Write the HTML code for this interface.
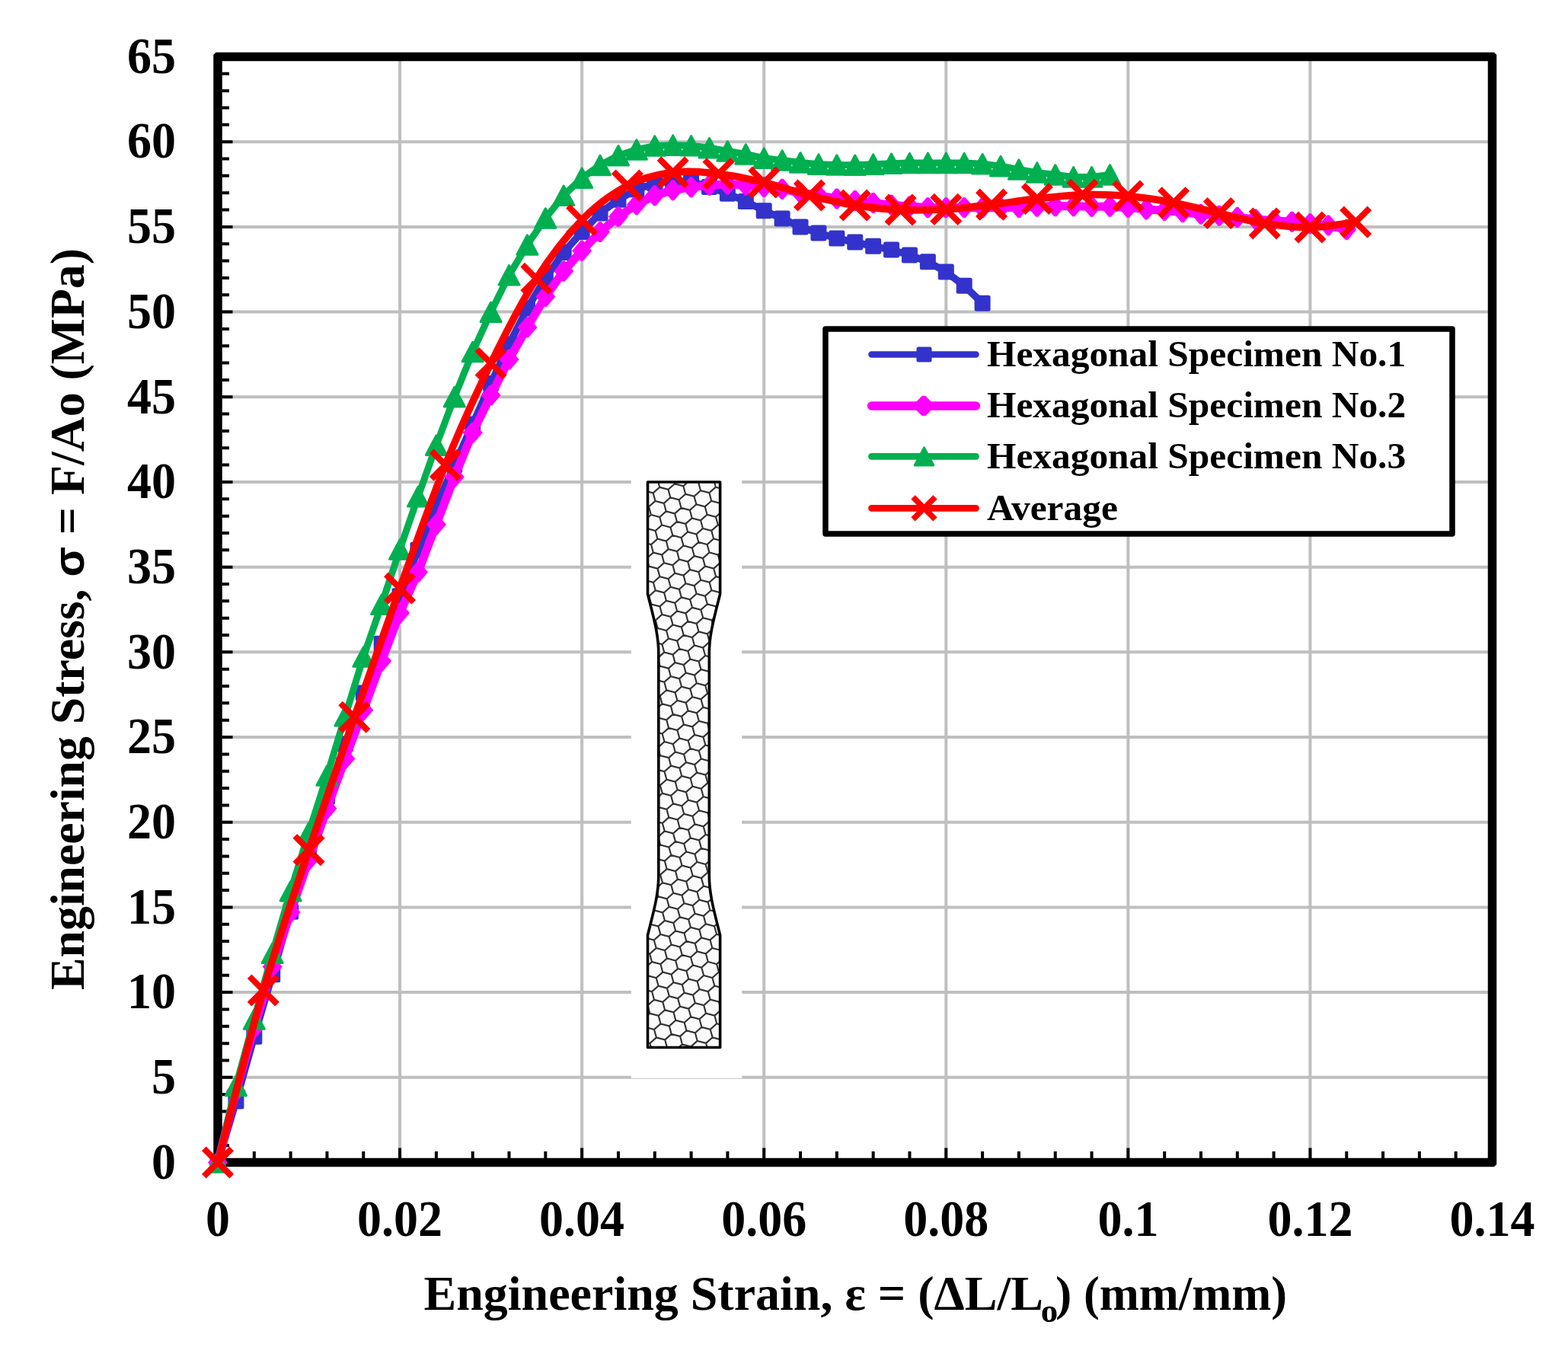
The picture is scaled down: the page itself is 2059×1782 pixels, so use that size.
<!DOCTYPE html>
<html><head><meta charset="utf-8"><title>Engineering stress-strain curves</title>
<style>html,body{margin:0;padding:0;background:#fff;}svg{display:block;}</style></head>
<body><svg width="2059" height="1782" viewBox="0 0 2059 1782">
<rect width="2059" height="1782" fill="#fff"/>
<path d="M525.07 74.50V1526.50 M764.14 74.50V1526.50 M1003.21 74.50V1526.50 M1242.29 74.50V1526.50 M1481.36 74.50V1526.50 M1720.43 74.50V1526.50 M286.00 1414.81H1959.50 M286.00 1303.12H1959.50 M286.00 1191.42H1959.50 M286.00 1079.73H1959.50 M286.00 968.04H1959.50 M286.00 856.35H1959.50 M286.00 744.65H1959.50 M286.00 632.96H1959.50 M286.00 521.27H1959.50 M286.00 409.58H1959.50 M286.00 297.88H1959.50 M286.00 186.19H1959.50" stroke="#bfbfbf" stroke-width="4" fill="none"/>
<rect x="828.8" y="624" width="145.4" height="791.8" fill="#fff"/>
<clipPath id="spc"><path d="M850.5 633.0H945.6V780.0C938.1 810.0 931.3 833.0 931.3 858.0V1150.0C931.3 1175.0 938.1 1198.0 945.6 1228.0V1375.5H850.5V1228.0C858.0 1198.0 864.8 1175.0 864.8 1150.0V858.0C864.8 833.0 858.0 810.0 850.5 780.0Z"/></clipPath>
<g clip-path="url(#spc)"><rect x="840" y="620" width="120" height="770" fill="#fbfbfb"/><path d="M837.8 612.8L829.3 620.3L817.9 617.3L815.1 606.8L823.6 599.2L834.9 602.2ZM852.0 626.3L843.5 633.8L832.1 630.8L829.3 620.3L837.8 612.8L849.1 615.8ZM846.3 644.4L837.8 651.9L826.5 648.9L823.6 638.4L832.1 630.8L843.5 633.8ZM840.7 662.4L832.2 670.0L820.9 667.0L818.0 656.5L826.5 648.9L837.8 651.9ZM871.8 621.7L863.3 629.3L852.0 626.3L849.1 615.8L857.6 608.2L868.9 611.2ZM866.2 639.8L857.7 647.4L846.3 644.4L843.5 633.8L852.0 626.3L863.3 629.3ZM860.5 657.9L852.0 665.4L840.7 662.4L837.8 651.9L846.3 644.4L857.7 647.4ZM854.9 676.0L846.4 683.5L835.1 680.5L832.2 670.0L840.7 662.4L852.0 665.4ZM849.2 694.0L840.8 701.6L829.4 698.6L826.6 688.1L835.1 680.5L846.4 683.5ZM843.6 712.1L835.1 719.7L823.8 716.7L820.9 706.1L829.4 698.6L840.8 701.6ZM838.0 730.2L829.5 737.7L818.2 734.7L815.3 724.2L823.8 716.7L835.1 719.7ZM891.6 617.2L883.1 624.7L871.8 621.7L868.9 611.2L877.4 603.7L888.8 606.7ZM886.0 635.3L877.5 642.8L866.2 639.8L863.3 629.3L871.8 621.7L883.1 624.7ZM880.3 653.3L871.9 660.9L860.5 657.9L857.7 647.4L866.2 639.8L877.5 642.8ZM874.7 671.4L866.2 679.0L854.9 676.0L852.0 665.4L860.5 657.9L871.9 660.9ZM869.1 689.5L860.6 697.0L849.2 694.0L846.4 683.5L854.9 676.0L866.2 679.0ZM863.4 707.6L855.0 715.1L843.6 712.1L840.8 701.6L849.2 694.0L860.6 697.0ZM857.8 725.6L849.3 733.2L838.0 730.2L835.1 719.7L843.6 712.1L855.0 715.1ZM852.2 743.7L843.7 751.3L832.3 748.3L829.5 737.7L838.0 730.2L849.3 733.2ZM846.5 761.8L838.1 769.3L826.7 766.3L823.9 755.8L832.3 748.3L843.7 751.3ZM840.9 779.9L832.4 787.4L821.1 784.4L818.2 773.9L826.7 766.3L838.1 769.3ZM911.4 612.6L903.0 620.2L891.6 617.2L888.8 606.7L897.2 599.1L908.6 602.1ZM905.8 630.7L897.3 638.3L886.0 635.3L883.1 624.7L891.6 617.2L903.0 620.2ZM900.2 648.8L891.7 656.3L880.3 653.3L877.5 642.8L886.0 635.3L897.3 638.3ZM894.5 666.9L886.1 674.4L874.7 671.4L871.9 660.9L880.3 653.3L891.7 656.3ZM888.9 684.9L880.4 692.5L869.1 689.5L866.2 679.0L874.7 671.4L886.1 674.4ZM883.3 703.0L874.8 710.6L863.4 707.6L860.6 697.0L869.1 689.5L880.4 692.5ZM877.6 721.1L869.2 728.6L857.8 725.6L855.0 715.1L863.4 707.6L874.8 710.6ZM872.0 739.2L863.5 746.7L852.2 743.7L849.3 733.2L857.8 725.6L869.2 728.6ZM866.4 757.2L857.9 764.8L846.5 761.8L843.7 751.3L852.2 743.7L863.5 746.7ZM860.7 775.3L852.3 782.9L840.9 779.9L838.1 769.3L846.5 761.8L857.9 764.8ZM855.1 793.4L846.6 800.9L835.3 797.9L832.4 787.4L840.9 779.9L852.3 782.9ZM849.5 811.5L841.0 819.0L829.6 816.0L826.8 805.5L835.3 797.9L846.6 800.9ZM843.8 829.5L835.4 837.1L824.0 834.1L821.2 823.6L829.6 816.0L841.0 819.0ZM838.2 847.6L829.7 855.2L818.4 852.2L815.5 841.6L824.0 834.1L835.4 837.1ZM925.6 626.2L917.2 633.7L905.8 630.7L903.0 620.2L911.4 612.6L922.8 615.6ZM920.0 644.2L911.5 651.8L900.2 648.8L897.3 638.3L905.8 630.7L917.2 633.7ZM914.4 662.3L905.9 669.9L894.5 666.9L891.7 656.3L900.2 648.8L911.5 651.8ZM908.7 680.4L900.3 687.9L888.9 684.9L886.1 674.4L894.5 666.9L905.9 669.9ZM903.1 698.5L894.6 706.0L883.3 703.0L880.4 692.5L888.9 684.9L900.3 687.9ZM897.5 716.5L889.0 724.1L877.6 721.1L874.8 710.6L883.3 703.0L894.6 706.0ZM891.8 734.6L883.4 742.2L872.0 739.2L869.2 728.6L877.6 721.1L889.0 724.1ZM886.2 752.7L877.7 760.2L866.4 757.2L863.5 746.7L872.0 739.2L883.4 742.2ZM880.6 770.8L872.1 778.3L860.7 775.3L857.9 764.8L866.4 757.2L877.7 760.2ZM874.9 788.8L866.5 796.4L855.1 793.4L852.3 782.9L860.7 775.3L872.1 778.3ZM869.3 806.9L860.8 814.5L849.5 811.5L846.6 800.9L855.1 793.4L866.5 796.4ZM863.7 825.0L855.2 832.5L843.8 829.5L841.0 819.0L849.5 811.5L860.8 814.5ZM858.0 843.1L849.6 850.6L838.2 847.6L835.4 837.1L843.8 829.5L855.2 832.5ZM852.4 861.1L843.9 868.7L832.6 865.7L829.7 855.2L838.2 847.6L849.6 850.6ZM846.8 879.2L838.3 886.8L826.9 883.8L824.1 873.2L832.6 865.7L843.9 868.7ZM841.1 897.3L832.7 904.8L821.3 901.8L818.5 891.3L826.9 883.8L838.3 886.8ZM945.5 621.6L937.0 629.2L925.6 626.2L922.8 615.6L931.3 608.1L942.6 611.1ZM939.8 639.7L931.4 647.2L920.0 644.2L917.2 633.7L925.6 626.2L937.0 629.2ZM934.2 657.8L925.7 665.3L914.4 662.3L911.5 651.8L920.0 644.2L931.4 647.2ZM928.6 675.8L920.1 683.4L908.7 680.4L905.9 669.9L914.4 662.3L925.7 665.3ZM922.9 693.9L914.5 701.5L903.1 698.5L900.3 687.9L908.7 680.4L920.1 683.4ZM917.3 712.0L908.8 719.5L897.5 716.5L894.6 706.0L903.1 698.5L914.5 701.5ZM911.7 730.1L903.2 737.6L891.8 734.6L889.0 724.1L897.5 716.5L908.8 719.5ZM906.0 748.1L897.6 755.7L886.2 752.7L883.4 742.2L891.8 734.6L903.2 737.6ZM900.4 766.2L891.9 773.8L880.6 770.8L877.7 760.2L886.2 752.7L897.6 755.7ZM894.8 784.3L886.3 791.8L874.9 788.8L872.1 778.3L880.6 770.8L891.9 773.8ZM889.1 802.4L880.7 809.9L869.3 806.9L866.5 796.4L874.9 788.8L886.3 791.8ZM883.5 820.4L875.0 828.0L863.7 825.0L860.8 814.5L869.3 806.9L880.7 809.9ZM877.9 838.5L869.4 846.1L858.0 843.1L855.2 832.5L863.7 825.0L875.0 828.0ZM872.2 856.6L863.8 864.1L852.4 861.1L849.6 850.6L858.0 843.1L869.4 846.1ZM866.6 874.7L858.1 882.2L846.8 879.2L843.9 868.7L852.4 861.1L863.8 864.1ZM861.0 892.7L852.5 900.3L841.1 897.3L838.3 886.8L846.8 879.2L858.1 882.2ZM855.3 910.8L846.8 918.4L835.5 915.4L832.7 904.8L841.1 897.3L852.5 900.3ZM849.7 928.9L841.2 936.4L829.9 933.4L827.0 922.9L835.5 915.4L846.8 918.4ZM844.1 947.0L835.6 954.5L824.2 951.5L821.4 941.0L829.9 933.4L841.2 936.4ZM838.4 965.0L829.9 972.6L818.6 969.6L815.8 959.1L824.2 951.5L835.6 954.5ZM965.3 617.1L956.8 624.6L945.5 621.6L942.6 611.1L951.1 603.5L962.5 606.5ZM959.7 635.1L951.2 642.7L939.8 639.7L937.0 629.2L945.5 621.6L956.8 624.6ZM954.0 653.2L945.6 660.8L934.2 657.8L931.4 647.2L939.8 639.7L951.2 642.7ZM948.4 671.3L939.9 678.8L928.6 675.8L925.7 665.3L934.2 657.8L945.6 660.8ZM942.8 689.4L934.3 696.9L922.9 693.9L920.1 683.4L928.6 675.8L939.9 678.8ZM937.1 707.4L928.6 715.0L917.3 712.0L914.5 701.5L922.9 693.9L934.3 696.9ZM931.5 725.5L923.0 733.1L911.7 730.1L908.8 719.5L917.3 712.0L928.6 715.0ZM925.9 743.6L917.4 751.1L906.0 748.1L903.2 737.6L911.7 730.1L923.0 733.1ZM920.2 761.7L911.7 769.2L900.4 766.2L897.6 755.7L906.0 748.1L917.4 751.1ZM914.6 779.7L906.1 787.3L894.8 784.3L891.9 773.8L900.4 766.2L911.7 769.2ZM909.0 797.8L900.5 805.4L889.1 802.4L886.3 791.8L894.8 784.3L906.1 787.3ZM903.3 815.9L894.8 823.4L883.5 820.4L880.7 809.9L889.1 802.4L900.5 805.4ZM897.7 834.0L889.2 841.5L877.9 838.5L875.0 828.0L883.5 820.4L894.8 823.4ZM892.1 852.0L883.6 859.6L872.2 856.6L869.4 846.1L877.9 838.5L889.2 841.5ZM886.4 870.1L877.9 877.7L866.6 874.7L863.8 864.1L872.2 856.6L883.6 859.6ZM880.8 888.2L872.3 895.7L861.0 892.7L858.1 882.2L866.6 874.7L877.9 877.7ZM875.2 906.3L866.7 913.8L855.3 910.8L852.5 900.3L861.0 892.7L872.3 895.7ZM869.5 924.3L861.0 931.9L849.7 928.9L846.8 918.4L855.3 910.8L866.7 913.8ZM863.9 942.4L855.4 950.0L844.1 947.0L841.2 936.4L849.7 928.9L861.0 931.9ZM858.3 960.5L849.8 968.0L838.4 965.0L835.6 954.5L844.1 947.0L855.4 950.0ZM852.6 978.6L844.1 986.1L832.8 983.1L829.9 972.6L838.4 965.0L849.8 968.0ZM847.0 996.6L838.5 1004.2L827.2 1001.2L824.3 990.7L832.8 983.1L844.1 986.1ZM841.4 1014.7L832.9 1022.3L821.5 1019.3L818.7 1008.7L827.2 1001.2L838.5 1004.2ZM979.5 630.6L971.0 638.1L959.7 635.1L956.8 624.6L965.3 617.1L976.6 620.1ZM973.9 648.7L965.4 656.2L954.0 653.2L951.2 642.7L959.7 635.1L971.0 638.1ZM968.2 666.7L959.7 674.3L948.4 671.3L945.6 660.8L954.0 653.2L965.4 656.2ZM962.6 684.8L954.1 692.4L942.8 689.4L939.9 678.8L948.4 671.3L959.7 674.3ZM957.0 702.9L948.5 710.4L937.1 707.4L934.3 696.9L942.8 689.4L954.1 692.4ZM951.3 721.0L942.8 728.5L931.5 725.5L928.6 715.0L937.1 707.4L948.5 710.4ZM945.7 739.0L937.2 746.6L925.9 743.6L923.0 733.1L931.5 725.5L942.8 728.5ZM940.1 757.1L931.6 764.7L920.2 761.7L917.4 751.1L925.9 743.6L937.2 746.6ZM934.4 775.2L925.9 782.7L914.6 779.7L911.7 769.2L920.2 761.7L931.6 764.7ZM928.8 793.3L920.3 800.8L909.0 797.8L906.1 787.3L914.6 779.7L925.9 782.7ZM923.2 811.3L914.7 818.9L903.3 815.9L900.5 805.4L909.0 797.8L920.3 800.8ZM917.5 829.4L909.0 837.0L897.7 834.0L894.8 823.4L903.3 815.9L914.7 818.9ZM911.9 847.5L903.4 855.0L892.1 852.0L889.2 841.5L897.7 834.0L909.0 837.0ZM906.3 865.6L897.8 873.1L886.4 870.1L883.6 859.6L892.1 852.0L903.4 855.0ZM900.6 883.6L892.1 891.2L880.8 888.2L877.9 877.7L886.4 870.1L897.8 873.1ZM895.0 901.7L886.5 909.3L875.2 906.3L872.3 895.7L880.8 888.2L892.1 891.2ZM889.4 919.8L880.9 927.3L869.5 924.3L866.7 913.8L875.2 906.3L886.5 909.3ZM883.7 937.9L875.2 945.4L863.9 942.4L861.0 931.9L869.5 924.3L880.9 927.3ZM878.1 955.9L869.6 963.5L858.3 960.5L855.4 950.0L863.9 942.4L875.2 945.4ZM872.5 974.0L864.0 981.6L852.6 978.6L849.8 968.0L858.3 960.5L869.6 963.5ZM866.8 992.1L858.3 999.6L847.0 996.6L844.1 986.1L852.6 978.6L864.0 981.6ZM861.2 1010.2L852.7 1017.7L841.4 1014.7L838.5 1004.2L847.0 996.6L858.3 999.6ZM855.6 1028.2L847.1 1035.8L835.7 1032.8L832.9 1022.3L841.4 1014.7L852.7 1017.7ZM849.9 1046.3L841.4 1053.9L830.1 1050.9L827.2 1040.3L835.7 1032.8L847.1 1035.8ZM844.3 1064.4L835.8 1071.9L824.5 1068.9L821.6 1058.4L830.1 1050.9L841.4 1053.9ZM838.7 1082.5L830.2 1090.0L818.8 1087.0L816.0 1076.5L824.5 1068.9L835.8 1071.9ZM976.8 698.3L968.3 705.9L957.0 702.9L954.1 692.4L962.6 684.8L973.9 687.8ZM971.2 716.4L962.7 724.0L951.3 721.0L948.5 710.4L957.0 702.9L968.3 705.9ZM965.5 734.5L957.0 742.0L945.7 739.0L942.8 728.5L951.3 721.0L962.7 724.0ZM959.9 752.6L951.4 760.1L940.1 757.1L937.2 746.6L945.7 739.0L957.0 742.0ZM954.3 770.6L945.8 778.2L934.4 775.2L931.6 764.7L940.1 757.1L951.4 760.1ZM948.6 788.7L940.1 796.3L928.8 793.3L925.9 782.7L934.4 775.2L945.8 778.2ZM943.0 806.8L934.5 814.3L923.2 811.3L920.3 800.8L928.8 793.3L940.1 796.3ZM937.4 824.9L928.9 832.4L917.5 829.4L914.7 818.9L923.2 811.3L934.5 814.3ZM931.7 842.9L923.2 850.5L911.9 847.5L909.0 837.0L917.5 829.4L928.9 832.4ZM926.1 861.0L917.6 868.6L906.3 865.6L903.4 855.0L911.9 847.5L923.2 850.5ZM920.5 879.1L912.0 886.6L900.6 883.6L897.8 873.1L906.3 865.6L917.6 868.6ZM914.8 897.2L906.3 904.7L895.0 901.7L892.1 891.2L900.6 883.6L912.0 886.6ZM909.2 915.2L900.7 922.8L889.4 919.8L886.5 909.3L895.0 901.7L906.3 904.7ZM903.6 933.3L895.1 940.9L883.7 937.9L880.9 927.3L889.4 919.8L900.7 922.8ZM897.9 951.4L889.4 958.9L878.1 955.9L875.2 945.4L883.7 937.9L895.1 940.9ZM892.3 969.5L883.8 977.0L872.5 974.0L869.6 963.5L878.1 955.9L889.4 958.9ZM886.7 987.5L878.2 995.1L866.8 992.1L864.0 981.6L872.5 974.0L883.8 977.0ZM881.0 1005.6L872.5 1013.2L861.2 1010.2L858.3 999.6L866.8 992.1L878.2 995.1ZM875.4 1023.7L866.9 1031.2L855.6 1028.2L852.7 1017.7L861.2 1010.2L872.5 1013.2ZM869.8 1041.8L861.3 1049.3L849.9 1046.3L847.1 1035.8L855.6 1028.2L866.9 1031.2ZM864.1 1059.8L855.6 1067.4L844.3 1064.4L841.4 1053.9L849.9 1046.3L861.3 1049.3ZM858.5 1077.9L850.0 1085.5L838.7 1082.5L835.8 1071.9L844.3 1064.4L855.6 1067.4ZM852.9 1096.0L844.4 1103.5L833.0 1100.5L830.2 1090.0L838.7 1082.5L850.0 1085.5ZM847.2 1114.1L838.7 1121.6L827.4 1118.6L824.5 1108.1L833.0 1100.5L844.4 1103.5ZM841.6 1132.1L833.1 1139.7L821.8 1136.7L818.9 1126.2L827.4 1118.6L838.7 1121.6ZM979.7 748.0L971.2 755.6L959.9 752.6L957.0 742.0L965.5 734.5L976.9 737.5ZM974.1 766.1L965.6 773.6L954.3 770.6L951.4 760.1L959.9 752.6L971.2 755.6ZM968.5 784.2L960.0 791.7L948.6 788.7L945.8 778.2L954.3 770.6L965.6 773.6ZM962.8 802.2L954.3 809.8L943.0 806.8L940.1 796.3L948.6 788.7L960.0 791.7ZM957.2 820.3L948.7 827.9L937.4 824.9L934.5 814.3L943.0 806.8L954.3 809.8ZM951.6 838.4L943.1 845.9L931.7 842.9L928.9 832.4L937.4 824.9L948.7 827.9ZM945.9 856.5L937.4 864.0L926.1 861.0L923.2 850.5L931.7 842.9L943.1 845.9ZM940.3 874.5L931.8 882.1L920.5 879.1L917.6 868.6L926.1 861.0L937.4 864.0ZM934.7 892.6L926.2 900.2L914.8 897.2L912.0 886.6L920.5 879.1L931.8 882.1ZM929.0 910.7L920.5 918.2L909.2 915.2L906.3 904.7L914.8 897.2L926.2 900.2ZM923.4 928.8L914.9 936.3L903.6 933.3L900.7 922.8L909.2 915.2L920.5 918.2ZM917.8 946.8L909.3 954.4L897.9 951.4L895.1 940.9L903.6 933.3L914.9 936.3ZM912.1 964.9L903.6 972.5L892.3 969.5L889.4 958.9L897.9 951.4L909.3 954.4ZM906.5 983.0L898.0 990.5L886.7 987.5L883.8 977.0L892.3 969.5L903.6 972.5ZM900.9 1001.1L892.4 1008.6L881.0 1005.6L878.2 995.1L886.7 987.5L898.0 990.5ZM895.2 1019.1L886.7 1026.7L875.4 1023.7L872.5 1013.2L881.0 1005.6L892.4 1008.6ZM889.6 1037.2L881.1 1044.8L869.8 1041.8L866.9 1031.2L875.4 1023.7L886.7 1026.7ZM884.0 1055.3L875.5 1062.8L864.1 1059.8L861.3 1049.3L869.8 1041.8L881.1 1044.8ZM878.3 1073.4L869.8 1080.9L858.5 1077.9L855.6 1067.4L864.1 1059.8L875.5 1062.8ZM872.7 1091.4L864.2 1099.0L852.9 1096.0L850.0 1085.5L858.5 1077.9L869.8 1080.9ZM867.1 1109.5L858.6 1117.1L847.2 1114.1L844.4 1103.5L852.9 1096.0L864.2 1099.0ZM861.4 1127.6L852.9 1135.1L841.6 1132.1L838.7 1121.6L847.2 1114.1L858.6 1117.1ZM855.8 1145.7L847.3 1153.2L836.0 1150.2L833.1 1139.7L841.6 1132.1L852.9 1135.1ZM850.2 1163.7L841.7 1171.3L830.3 1168.3L827.5 1157.8L836.0 1150.2L847.3 1153.2ZM844.5 1181.8L836.0 1189.4L824.7 1186.4L821.8 1175.8L830.3 1168.3L841.7 1171.3ZM838.9 1199.9L830.4 1207.4L819.1 1204.4L816.2 1193.9L824.7 1186.4L836.0 1189.4ZM977.0 815.8L968.5 823.3L957.2 820.3L954.3 809.8L962.8 802.2L974.2 805.2ZM971.4 833.8L962.9 841.4L951.6 838.4L948.7 827.9L957.2 820.3L968.5 823.3ZM965.8 851.9L957.3 859.5L945.9 856.5L943.1 845.9L951.6 838.4L962.9 841.4ZM960.1 870.0L951.6 877.5L940.3 874.5L937.4 864.0L945.9 856.5L957.3 859.5ZM954.5 888.1L946.0 895.6L934.7 892.6L931.8 882.1L940.3 874.5L951.6 877.5ZM948.9 906.1L940.4 913.7L929.0 910.7L926.2 900.2L934.7 892.6L946.0 895.6ZM943.2 924.2L934.7 931.8L923.4 928.8L920.5 918.2L929.0 910.7L940.4 913.7ZM937.6 942.3L929.1 949.8L917.8 946.8L914.9 936.3L923.4 928.8L934.7 931.8ZM932.0 960.4L923.5 967.9L912.1 964.9L909.3 954.4L917.8 946.8L929.1 949.8ZM926.3 978.4L917.8 986.0L906.5 983.0L903.6 972.5L912.1 964.9L923.5 967.9ZM920.7 996.5L912.2 1004.1L900.9 1001.1L898.0 990.5L906.5 983.0L917.8 986.0ZM915.1 1014.6L906.6 1022.1L895.2 1019.1L892.4 1008.6L900.9 1001.1L912.2 1004.1ZM909.4 1032.7L900.9 1040.2L889.6 1037.2L886.7 1026.7L895.2 1019.1L906.6 1022.1ZM903.8 1050.7L895.3 1058.3L884.0 1055.3L881.1 1044.8L889.6 1037.2L900.9 1040.2ZM898.2 1068.8L889.7 1076.4L878.3 1073.4L875.5 1062.8L884.0 1055.3L895.3 1058.3ZM892.5 1086.9L884.0 1094.4L872.7 1091.4L869.8 1080.9L878.3 1073.4L889.7 1076.4ZM886.9 1105.0L878.4 1112.5L867.1 1109.5L864.2 1099.0L872.7 1091.4L884.0 1094.4ZM881.3 1123.0L872.8 1130.6L861.4 1127.6L858.6 1117.1L867.1 1109.5L878.4 1112.5ZM875.6 1141.1L867.1 1148.7L855.8 1145.7L852.9 1135.1L861.4 1127.6L872.8 1130.6ZM870.0 1159.2L861.5 1166.7L850.2 1163.7L847.3 1153.2L855.8 1145.7L867.1 1148.7ZM864.4 1177.3L855.9 1184.8L844.5 1181.8L841.7 1171.3L850.2 1163.7L861.5 1166.7ZM858.7 1195.3L850.2 1202.9L838.9 1199.9L836.0 1189.4L844.5 1181.8L855.9 1184.8ZM853.1 1213.4L844.6 1221.0L833.3 1218.0L830.4 1207.4L838.9 1199.9L850.2 1202.9ZM847.5 1231.5L839.0 1239.0L827.6 1236.0L824.8 1225.5L833.3 1218.0L844.6 1221.0ZM841.8 1249.6L833.3 1257.1L822.0 1254.1L819.1 1243.6L827.6 1236.0L839.0 1239.0ZM980.0 865.4L971.5 873.0L960.1 870.0L957.3 859.5L965.8 851.9L977.1 854.9ZM974.3 883.5L965.8 891.1L954.5 888.1L951.6 877.5L960.1 870.0L971.5 873.0ZM968.7 901.6L960.2 909.1L948.9 906.1L946.0 895.6L954.5 888.1L965.8 891.1ZM963.1 919.7L954.6 927.2L943.2 924.2L940.4 913.7L948.9 906.1L960.2 909.1ZM957.4 937.7L948.9 945.3L937.6 942.3L934.7 931.8L943.2 924.2L954.6 927.2ZM951.8 955.8L943.3 963.4L932.0 960.4L929.1 949.8L937.6 942.3L948.9 945.3ZM946.2 973.9L937.7 981.4L926.3 978.4L923.5 967.9L932.0 960.4L943.3 963.4ZM940.5 992.0L932.0 999.5L920.7 996.5L917.8 986.0L926.3 978.4L937.7 981.4ZM934.9 1010.0L926.4 1017.6L915.1 1014.6L912.2 1004.1L920.7 996.5L932.0 999.5ZM929.3 1028.1L920.8 1035.7L909.4 1032.7L906.6 1022.1L915.1 1014.6L926.4 1017.6ZM923.6 1046.2L915.1 1053.7L903.8 1050.7L900.9 1040.2L909.4 1032.7L920.8 1035.7ZM918.0 1064.3L909.5 1071.8L898.2 1068.8L895.3 1058.3L903.8 1050.7L915.1 1053.7ZM912.4 1082.3L903.9 1089.9L892.5 1086.9L889.7 1076.4L898.2 1068.8L909.5 1071.8ZM906.7 1100.4L898.2 1108.0L886.9 1105.0L884.0 1094.4L892.5 1086.9L903.9 1089.9ZM901.1 1118.5L892.6 1126.0L881.3 1123.0L878.4 1112.5L886.9 1105.0L898.2 1108.0ZM895.5 1136.6L887.0 1144.1L875.6 1141.1L872.8 1130.6L881.3 1123.0L892.6 1126.0ZM889.8 1154.6L881.3 1162.2L870.0 1159.2L867.1 1148.7L875.6 1141.1L887.0 1144.1ZM884.2 1172.7L875.7 1180.3L864.4 1177.3L861.5 1166.7L870.0 1159.2L881.3 1162.2ZM878.6 1190.8L870.1 1198.3L858.7 1195.3L855.9 1184.8L864.4 1177.3L875.7 1180.3ZM872.9 1208.9L864.4 1216.4L853.1 1213.4L850.2 1202.9L858.7 1195.3L870.1 1198.3ZM867.3 1226.9L858.8 1234.5L847.5 1231.5L844.6 1221.0L853.1 1213.4L864.4 1216.4ZM861.7 1245.0L853.2 1252.6L841.8 1249.6L839.0 1239.0L847.5 1231.5L858.8 1234.5ZM856.0 1263.1L847.5 1270.6L836.2 1267.6L833.3 1257.1L841.8 1249.6L853.2 1252.6ZM850.4 1281.2L841.9 1288.7L830.6 1285.7L827.7 1275.2L836.2 1267.6L847.5 1270.6ZM844.8 1299.2L836.3 1306.8L824.9 1303.8L822.1 1293.3L830.6 1285.7L841.9 1288.7ZM839.1 1317.3L830.6 1324.9L819.3 1321.9L816.4 1311.3L824.9 1303.8L836.3 1306.8ZM977.3 933.2L968.8 940.7L957.4 937.7L954.6 927.2L963.1 919.7L974.4 922.7ZM971.6 951.3L963.1 958.8L951.8 955.8L948.9 945.3L957.4 937.7L968.8 940.7ZM966.0 969.3L957.5 976.9L946.2 973.9L943.3 963.4L951.8 955.8L963.1 958.8ZM960.4 987.4L951.9 995.0L940.5 992.0L937.7 981.4L946.2 973.9L957.5 976.9ZM954.7 1005.5L946.2 1013.0L934.9 1010.0L932.0 999.5L940.5 992.0L951.9 995.0ZM949.1 1023.6L940.6 1031.1L929.3 1028.1L926.4 1017.6L934.9 1010.0L946.2 1013.0ZM943.5 1041.6L935.0 1049.2L923.6 1046.2L920.8 1035.7L929.3 1028.1L940.6 1031.1ZM937.8 1059.7L929.3 1067.3L918.0 1064.3L915.1 1053.7L923.6 1046.2L935.0 1049.2ZM932.2 1077.8L923.7 1085.3L912.4 1082.3L909.5 1071.8L918.0 1064.3L929.3 1067.3ZM926.6 1095.9L918.1 1103.4L906.7 1100.4L903.9 1089.9L912.4 1082.3L923.7 1085.3ZM920.9 1113.9L912.4 1121.5L901.1 1118.5L898.2 1108.0L906.7 1100.4L918.1 1103.4ZM915.3 1132.0L906.8 1139.6L895.5 1136.6L892.6 1126.0L901.1 1118.5L912.4 1121.5ZM909.7 1150.1L901.2 1157.6L889.8 1154.6L887.0 1144.1L895.5 1136.6L906.8 1139.6ZM904.0 1168.2L895.5 1175.7L884.2 1172.7L881.3 1162.2L889.8 1154.6L901.2 1157.6ZM898.4 1186.2L889.9 1193.8L878.6 1190.8L875.7 1180.3L884.2 1172.7L895.5 1175.7ZM892.8 1204.3L884.3 1211.9L872.9 1208.9L870.1 1198.3L878.6 1190.8L889.9 1193.8ZM887.1 1222.4L878.6 1229.9L867.3 1226.9L864.4 1216.4L872.9 1208.9L884.3 1211.9ZM881.5 1240.5L873.0 1248.0L861.7 1245.0L858.8 1234.5L867.3 1226.9L878.6 1229.9ZM875.9 1258.5L867.4 1266.1L856.0 1263.1L853.2 1252.6L861.7 1245.0L873.0 1248.0ZM870.2 1276.6L861.7 1284.2L850.4 1281.2L847.5 1270.6L856.0 1263.1L867.4 1266.1ZM864.6 1294.7L856.1 1302.2L844.8 1299.2L841.9 1288.7L850.4 1281.2L861.7 1284.2ZM859.0 1312.8L850.5 1320.3L839.1 1317.3L836.3 1306.8L844.8 1299.2L856.1 1302.2ZM853.3 1330.8L844.8 1338.4L833.5 1335.4L830.6 1324.9L839.1 1317.3L850.5 1320.3ZM847.7 1348.9L839.2 1356.5L827.9 1353.5L825.0 1342.9L833.5 1335.4L844.8 1338.4ZM842.1 1367.0L833.6 1374.5L822.2 1371.5L819.4 1361.0L827.9 1353.5L839.2 1356.5ZM980.2 982.9L971.7 990.4L960.4 987.4L957.5 976.9L966.0 969.3L977.3 972.3ZM974.6 1000.9L966.1 1008.5L954.7 1005.5L951.9 995.0L960.4 987.4L971.7 990.4ZM968.9 1019.0L960.4 1026.6L949.1 1023.6L946.2 1013.0L954.7 1005.5L966.1 1008.5ZM963.3 1037.1L954.8 1044.6L943.5 1041.6L940.6 1031.1L949.1 1023.6L960.4 1026.6ZM957.7 1055.2L949.2 1062.7L937.8 1059.7L935.0 1049.2L943.5 1041.6L954.8 1044.6ZM952.0 1073.2L943.5 1080.8L932.2 1077.8L929.3 1067.3L937.8 1059.7L949.2 1062.7ZM946.4 1091.3L937.9 1098.9L926.6 1095.9L923.7 1085.3L932.2 1077.8L943.5 1080.8ZM940.8 1109.4L932.3 1116.9L920.9 1113.9L918.1 1103.4L926.6 1095.9L937.9 1098.9ZM935.1 1127.5L926.6 1135.0L915.3 1132.0L912.4 1121.5L920.9 1113.9L932.3 1116.9ZM929.5 1145.5L921.0 1153.1L909.7 1150.1L906.8 1139.6L915.3 1132.0L926.6 1135.0ZM923.9 1163.6L915.4 1171.2L904.0 1168.2L901.2 1157.6L909.7 1150.1L921.0 1153.1ZM918.2 1181.7L909.7 1189.2L898.4 1186.2L895.5 1175.7L904.0 1168.2L915.4 1171.2ZM912.6 1199.8L904.1 1207.3L892.8 1204.3L889.9 1193.8L898.4 1186.2L909.7 1189.2ZM906.9 1217.8L898.5 1225.4L887.1 1222.4L884.3 1211.9L892.8 1204.3L904.1 1207.3ZM901.3 1235.9L892.8 1243.5L881.5 1240.5L878.6 1229.9L887.1 1222.4L898.5 1225.4ZM895.7 1254.0L887.2 1261.5L875.9 1258.5L873.0 1248.0L881.5 1240.5L892.8 1243.5ZM890.0 1272.1L881.6 1279.6L870.2 1276.6L867.4 1266.1L875.9 1258.5L887.2 1261.5ZM884.4 1290.1L875.9 1297.7L864.6 1294.7L861.7 1284.2L870.2 1276.6L881.6 1279.6ZM878.8 1308.2L870.3 1315.8L859.0 1312.8L856.1 1302.2L864.6 1294.7L875.9 1297.7ZM873.1 1326.3L864.7 1333.8L853.3 1330.8L850.5 1320.3L859.0 1312.8L870.3 1315.8ZM867.5 1344.4L859.0 1351.9L847.7 1348.9L844.8 1338.4L853.3 1330.8L864.7 1333.8ZM861.9 1362.4L853.4 1370.0L842.1 1367.0L839.2 1356.5L847.7 1348.9L859.0 1351.9ZM856.2 1380.5L847.8 1388.1L836.4 1385.1L833.6 1374.5L842.1 1367.0L853.4 1370.0ZM850.6 1398.6L842.1 1406.1L830.8 1403.1L827.9 1392.6L836.4 1385.1L847.8 1388.1ZM977.5 1050.6L969.0 1058.2L957.7 1055.2L954.8 1044.6L963.3 1037.1L974.6 1040.1ZM971.8 1068.7L963.4 1076.2L952.0 1073.2L949.2 1062.7L957.7 1055.2L969.0 1058.2ZM966.2 1086.8L957.7 1094.3L946.4 1091.3L943.5 1080.8L952.0 1073.2L963.4 1076.2ZM960.6 1104.8L952.1 1112.4L940.8 1109.4L937.9 1098.9L946.4 1091.3L957.7 1094.3ZM954.9 1122.9L946.5 1130.5L935.1 1127.5L932.3 1116.9L940.8 1109.4L952.1 1112.4ZM949.3 1141.0L940.8 1148.5L929.5 1145.5L926.6 1135.0L935.1 1127.5L946.5 1130.5ZM943.7 1159.1L935.2 1166.6L923.9 1163.6L921.0 1153.1L929.5 1145.5L940.8 1148.5ZM938.0 1177.1L929.6 1184.7L918.2 1181.7L915.4 1171.2L923.9 1163.6L935.2 1166.6ZM932.4 1195.2L923.9 1202.8L912.6 1199.8L909.7 1189.2L918.2 1181.7L929.6 1184.7ZM926.8 1213.3L918.3 1220.8L906.9 1217.8L904.1 1207.3L912.6 1199.8L923.9 1202.8ZM921.1 1231.4L912.7 1238.9L901.3 1235.9L898.5 1225.4L906.9 1217.8L918.3 1220.8ZM915.5 1249.4L907.0 1257.0L895.7 1254.0L892.8 1243.5L901.3 1235.9L912.7 1238.9ZM909.9 1267.5L901.4 1275.1L890.0 1272.1L887.2 1261.5L895.7 1254.0L907.0 1257.0ZM904.2 1285.6L895.8 1293.1L884.4 1290.1L881.6 1279.6L890.0 1272.1L901.4 1275.1ZM898.6 1303.7L890.1 1311.2L878.8 1308.2L875.9 1297.7L884.4 1290.1L895.8 1293.1ZM893.0 1321.7L884.5 1329.3L873.1 1326.3L870.3 1315.8L878.8 1308.2L890.1 1311.2ZM887.3 1339.8L878.9 1347.4L867.5 1344.4L864.7 1333.8L873.1 1326.3L884.5 1329.3ZM881.7 1357.9L873.2 1365.4L861.9 1362.4L859.0 1351.9L867.5 1344.4L878.9 1347.4ZM876.1 1376.0L867.6 1383.5L856.2 1380.5L853.4 1370.0L861.9 1362.4L873.2 1365.4ZM870.4 1394.0L862.0 1401.6L850.6 1398.6L847.8 1388.1L856.2 1380.5L867.6 1383.5ZM980.4 1100.3L971.9 1107.8L960.6 1104.8L957.7 1094.3L966.2 1086.8L977.6 1089.8ZM974.8 1118.4L966.3 1125.9L954.9 1122.9L952.1 1112.4L960.6 1104.8L971.9 1107.8ZM969.1 1136.4L960.7 1144.0L949.3 1141.0L946.5 1130.5L954.9 1122.9L966.3 1125.9ZM963.5 1154.5L955.0 1162.1L943.7 1159.1L940.8 1148.5L949.3 1141.0L960.7 1144.0ZM957.9 1172.6L949.4 1180.1L938.0 1177.1L935.2 1166.6L943.7 1159.1L955.0 1162.1ZM952.2 1190.7L943.8 1198.2L932.4 1195.2L929.6 1184.7L938.0 1177.1L949.4 1180.1ZM946.6 1208.7L938.1 1216.3L926.8 1213.3L923.9 1202.8L932.4 1195.2L943.8 1198.2ZM941.0 1226.8L932.5 1234.4L921.1 1231.4L918.3 1220.8L926.8 1213.3L938.1 1216.3ZM935.3 1244.9L926.9 1252.4L915.5 1249.4L912.7 1238.9L921.1 1231.4L932.5 1234.4ZM929.7 1263.0L921.2 1270.5L909.9 1267.5L907.0 1257.0L915.5 1249.4L926.9 1252.4ZM924.1 1281.0L915.6 1288.6L904.2 1285.6L901.4 1275.1L909.9 1267.5L921.2 1270.5ZM918.4 1299.1L910.0 1306.7L898.6 1303.7L895.8 1293.1L904.2 1285.6L915.6 1288.6ZM912.8 1317.2L904.3 1324.7L893.0 1321.7L890.1 1311.2L898.6 1303.7L910.0 1306.7ZM907.2 1335.3L898.7 1342.8L887.3 1339.8L884.5 1329.3L893.0 1321.7L904.3 1324.7ZM901.5 1353.3L893.1 1360.9L881.7 1357.9L878.9 1347.4L887.3 1339.8L898.7 1342.8ZM895.9 1371.4L887.4 1379.0L876.1 1376.0L873.2 1365.4L881.7 1357.9L893.1 1360.9ZM890.3 1389.5L881.8 1397.0L870.4 1394.0L867.6 1383.5L876.1 1376.0L887.4 1379.0ZM977.7 1168.0L969.2 1175.6L957.9 1172.6L955.0 1162.1L963.5 1154.5L974.9 1157.5ZM972.1 1186.1L963.6 1193.7L952.2 1190.7L949.4 1180.1L957.9 1172.6L969.2 1175.6ZM966.4 1204.2L958.0 1211.7L946.6 1208.7L943.8 1198.2L952.2 1190.7L963.6 1193.7ZM960.8 1222.3L952.3 1229.8L941.0 1226.8L938.1 1216.3L946.6 1208.7L958.0 1211.7ZM955.2 1240.3L946.7 1247.9L935.3 1244.9L932.5 1234.4L941.0 1226.8L952.3 1229.8ZM949.5 1258.4L941.1 1266.0L929.7 1263.0L926.9 1252.4L935.3 1244.9L946.7 1247.9ZM943.9 1276.5L935.4 1284.0L924.1 1281.0L921.2 1270.5L929.7 1263.0L941.1 1266.0ZM938.3 1294.6L929.8 1302.1L918.4 1299.1L915.6 1288.6L924.1 1281.0L935.4 1284.0ZM932.6 1312.6L924.2 1320.2L912.8 1317.2L910.0 1306.7L918.4 1299.1L929.8 1302.1ZM927.0 1330.7L918.5 1338.3L907.2 1335.3L904.3 1324.7L912.8 1317.2L924.2 1320.2ZM921.4 1348.8L912.9 1356.3L901.5 1353.3L898.7 1342.8L907.2 1335.3L918.5 1338.3ZM915.7 1366.9L907.3 1374.4L895.9 1371.4L893.1 1360.9L901.5 1353.3L912.9 1356.3ZM910.1 1384.9L901.6 1392.5L890.3 1389.5L887.4 1379.0L895.9 1371.4L907.3 1374.4ZM904.5 1403.0L896.0 1410.6L884.6 1407.6L881.8 1397.0L890.3 1389.5L901.6 1392.5ZM980.6 1217.7L972.2 1225.3L960.8 1222.3L958.0 1211.7L966.4 1204.2L977.8 1207.2ZM975.0 1235.8L966.5 1243.3L955.2 1240.3L952.3 1229.8L960.8 1222.3L972.2 1225.3ZM969.4 1253.9L960.9 1261.4L949.5 1258.4L946.7 1247.9L955.2 1240.3L966.5 1243.3ZM963.7 1271.9L955.3 1279.5L943.9 1276.5L941.1 1266.0L949.5 1258.4L960.9 1261.4ZM958.1 1290.0L949.6 1297.6L938.3 1294.6L935.4 1284.0L943.9 1276.5L955.3 1279.5ZM952.5 1308.1L944.0 1315.6L932.6 1312.6L929.8 1302.1L938.3 1294.6L949.6 1297.6ZM946.8 1326.2L938.4 1333.7L927.0 1330.7L924.2 1320.2L932.6 1312.6L944.0 1315.6ZM941.2 1344.2L932.7 1351.8L921.4 1348.8L918.5 1338.3L927.0 1330.7L938.4 1333.7ZM935.6 1362.3L927.1 1369.9L915.7 1366.9L912.9 1356.3L921.4 1348.8L932.7 1351.8ZM929.9 1380.4L921.5 1387.9L910.1 1384.9L907.3 1374.4L915.7 1366.9L927.1 1369.9ZM924.3 1398.5L915.8 1406.0L904.5 1403.0L901.6 1392.5L910.1 1384.9L921.5 1387.9ZM977.9 1285.5L969.4 1293.0L958.1 1290.0L955.3 1279.5L963.7 1271.9L975.1 1274.9ZM972.3 1303.5L963.8 1311.1L952.5 1308.1L949.6 1297.6L958.1 1290.0L969.4 1293.0ZM966.7 1321.6L958.2 1329.2L946.8 1326.2L944.0 1315.6L952.5 1308.1L963.8 1311.1ZM961.0 1339.7L952.5 1347.2L941.2 1344.2L938.4 1333.7L946.8 1326.2L958.2 1329.2ZM955.4 1357.8L946.9 1365.3L935.6 1362.3L932.7 1351.8L941.2 1344.2L952.5 1347.2ZM949.8 1375.8L941.3 1383.4L929.9 1380.4L927.1 1369.9L935.6 1362.3L946.9 1365.3ZM944.1 1393.9L935.6 1401.5L924.3 1398.5L921.5 1387.9L929.9 1380.4L941.3 1383.4ZM980.9 1335.1L972.4 1342.7L961.0 1339.7L958.2 1329.2L966.7 1321.6L978.0 1324.6ZM975.2 1353.2L966.7 1360.8L955.4 1357.8L952.5 1347.2L961.0 1339.7L972.4 1342.7ZM969.6 1371.3L961.1 1378.8L949.8 1375.8L946.9 1365.3L955.4 1357.8L966.7 1360.8ZM964.0 1389.4L955.5 1396.9L944.1 1393.9L941.3 1383.4L949.8 1375.8L961.1 1378.8ZM978.2 1402.9L969.7 1410.4L958.3 1407.4L955.5 1396.9L964.0 1389.4L975.3 1392.4Z" fill="none" stroke="#333" stroke-width="2.1"/></g>
<path d="M850.5 633.0H945.6V780.0C938.1 810.0 931.3 833.0 931.3 858.0V1150.0C931.3 1175.0 938.1 1198.0 945.6 1228.0V1375.5H850.5V1228.0C858.0 1198.0 864.8 1175.0 864.8 1150.0V858.0C864.8 833.0 858.0 810.0 850.5 780.0Z" fill="none" stroke="#000" stroke-width="3.6" stroke-linejoin="round"/>
<path d="M291.5 1504.16h9.5 M291.5 1481.82h9.5 M291.5 1459.48h9.5 M291.5 1437.15h9.5 M291.5 1414.81h14 M291.5 1392.47h9.5 M291.5 1370.13h9.5 M291.5 1347.79h9.5 M291.5 1325.45h9.5 M291.5 1303.12h14 M291.5 1280.78h9.5 M291.5 1258.44h9.5 M291.5 1236.10h9.5 M291.5 1213.76h9.5 M291.5 1191.42h14 M291.5 1169.08h9.5 M291.5 1146.75h9.5 M291.5 1124.41h9.5 M291.5 1102.07h9.5 M291.5 1079.73h14 M291.5 1057.39h9.5 M291.5 1035.05h9.5 M291.5 1012.72h9.5 M291.5 990.38h9.5 M291.5 968.04h14 M291.5 945.70h9.5 M291.5 923.36h9.5 M291.5 901.02h9.5 M291.5 878.68h9.5 M291.5 856.35h14 M291.5 834.01h9.5 M291.5 811.67h9.5 M291.5 789.33h9.5 M291.5 766.99h9.5 M291.5 744.65h14 M291.5 722.32h9.5 M291.5 699.98h9.5 M291.5 677.64h9.5 M291.5 655.30h9.5 M291.5 632.96h14 M291.5 610.62h9.5 M291.5 588.28h9.5 M291.5 565.95h9.5 M291.5 543.61h9.5 M291.5 521.27h14 M291.5 498.93h9.5 M291.5 476.59h9.5 M291.5 454.25h9.5 M291.5 431.92h9.5 M291.5 409.58h14 M291.5 387.24h9.5 M291.5 364.90h9.5 M291.5 342.56h9.5 M291.5 320.22h9.5 M291.5 297.88h14 M291.5 275.55h9.5 M291.5 253.21h9.5 M291.5 230.87h9.5 M291.5 208.53h9.5 M291.5 186.19h14 M291.5 163.85h9.5 M291.5 141.52h9.5 M291.5 119.18h9.5 M291.5 96.84h9.5 M333.81 1521.5v-9.5 M381.63 1521.5v-9.5 M429.44 1521.5v-9.5 M477.26 1521.5v-9.5 M525.07 1521.5v-14 M572.89 1521.5v-9.5 M620.70 1521.5v-9.5 M668.51 1521.5v-9.5 M716.33 1521.5v-9.5 M764.14 1521.5v-14 M811.96 1521.5v-9.5 M859.77 1521.5v-9.5 M907.59 1521.5v-9.5 M955.40 1521.5v-9.5 M1003.21 1521.5v-14 M1051.03 1521.5v-9.5 M1098.84 1521.5v-9.5 M1146.66 1521.5v-9.5 M1194.47 1521.5v-9.5 M1242.29 1521.5v-14 M1290.10 1521.5v-9.5 M1337.91 1521.5v-9.5 M1385.73 1521.5v-9.5 M1433.54 1521.5v-9.5 M1481.36 1521.5v-14 M1529.17 1521.5v-9.5 M1576.99 1521.5v-9.5 M1624.80 1521.5v-9.5 M1672.61 1521.5v-9.5 M1720.43 1521.5v-14 M1768.24 1521.5v-9.5 M1816.06 1521.5v-9.5 M1863.87 1521.5v-9.5 M1911.69 1521.5v-9.5" stroke="#000" stroke-width="4" fill="none"/>
<path d="M283.55 68.75H1961.95L1965.25 72.05V1528.95L1961.95 1532.25H283.55L280.25 1528.95V72.05ZM291.75 80.25H1953.75V1520.75H291.75Z" fill="#000" fill-rule="evenodd"/>
<path d="M286.00 1526.50L309.91 1446.08L333.81 1361.20L357.72 1279.66L381.63 1197.23L405.54 1119.94L429.44 1046.22L453.35 976.97L477.26 909.96L501.16 845.18L525.07 782.63L548.98 722.32L572.89 664.24L596.79 610.62L620.70 557.01L644.61 503.40L668.51 452.02L692.42 405.11L716.33 364.90L740.24 331.39L764.14 304.59L788.05 280.01L811.96 262.14L835.86 248.74L859.77 240.92L883.68 237.57L907.59 238.69L931.49 245.39L955.40 254.32L979.31 264.38L1003.21 276.66L1027.12 286.94L1051.03 297.88L1074.94 305.93L1098.84 313.07L1122.75 317.99L1146.66 323.35L1170.56 328.04L1194.47 334.97L1218.38 343.68L1242.29 357.08L1266.19 375.18L1290.10 398.18" stroke="#3333cc" stroke-width="9.5" fill="none" stroke-linejoin="round"/>
<rect x="275.50" y="1516.00" width="21" height="21" rx="2.5" fill="#3333cc"/><rect x="299.41" y="1435.58" width="21" height="21" rx="2.5" fill="#3333cc"/><rect x="323.31" y="1350.70" width="21" height="21" rx="2.5" fill="#3333cc"/><rect x="347.22" y="1269.16" width="21" height="21" rx="2.5" fill="#3333cc"/><rect x="371.13" y="1186.73" width="21" height="21" rx="2.5" fill="#3333cc"/><rect x="395.04" y="1109.44" width="21" height="21" rx="2.5" fill="#3333cc"/><rect x="418.94" y="1035.72" width="21" height="21" rx="2.5" fill="#3333cc"/><rect x="442.85" y="966.47" width="21" height="21" rx="2.5" fill="#3333cc"/><rect x="466.76" y="899.46" width="21" height="21" rx="2.5" fill="#3333cc"/><rect x="490.66" y="834.68" width="21" height="21" rx="2.5" fill="#3333cc"/><rect x="514.57" y="772.13" width="21" height="21" rx="2.5" fill="#3333cc"/><rect x="538.48" y="711.82" width="21" height="21" rx="2.5" fill="#3333cc"/><rect x="562.39" y="653.74" width="21" height="21" rx="2.5" fill="#3333cc"/><rect x="586.29" y="600.12" width="21" height="21" rx="2.5" fill="#3333cc"/><rect x="610.20" y="546.51" width="21" height="21" rx="2.5" fill="#3333cc"/><rect x="634.11" y="492.90" width="21" height="21" rx="2.5" fill="#3333cc"/><rect x="658.01" y="441.52" width="21" height="21" rx="2.5" fill="#3333cc"/><rect x="681.92" y="394.61" width="21" height="21" rx="2.5" fill="#3333cc"/><rect x="705.83" y="354.40" width="21" height="21" rx="2.5" fill="#3333cc"/><rect x="729.74" y="320.89" width="21" height="21" rx="2.5" fill="#3333cc"/><rect x="753.64" y="294.09" width="21" height="21" rx="2.5" fill="#3333cc"/><rect x="777.55" y="269.51" width="21" height="21" rx="2.5" fill="#3333cc"/><rect x="801.46" y="251.64" width="21" height="21" rx="2.5" fill="#3333cc"/><rect x="825.36" y="238.24" width="21" height="21" rx="2.5" fill="#3333cc"/><rect x="849.27" y="230.42" width="21" height="21" rx="2.5" fill="#3333cc"/><rect x="873.18" y="227.07" width="21" height="21" rx="2.5" fill="#3333cc"/><rect x="897.09" y="228.19" width="21" height="21" rx="2.5" fill="#3333cc"/><rect x="920.99" y="234.89" width="21" height="21" rx="2.5" fill="#3333cc"/><rect x="944.90" y="243.82" width="21" height="21" rx="2.5" fill="#3333cc"/><rect x="968.81" y="253.88" width="21" height="21" rx="2.5" fill="#3333cc"/><rect x="992.71" y="266.16" width="21" height="21" rx="2.5" fill="#3333cc"/><rect x="1016.62" y="276.44" width="21" height="21" rx="2.5" fill="#3333cc"/><rect x="1040.53" y="287.38" width="21" height="21" rx="2.5" fill="#3333cc"/><rect x="1064.44" y="295.43" width="21" height="21" rx="2.5" fill="#3333cc"/><rect x="1088.34" y="302.57" width="21" height="21" rx="2.5" fill="#3333cc"/><rect x="1112.25" y="307.49" width="21" height="21" rx="2.5" fill="#3333cc"/><rect x="1136.16" y="312.85" width="21" height="21" rx="2.5" fill="#3333cc"/><rect x="1160.06" y="317.54" width="21" height="21" rx="2.5" fill="#3333cc"/><rect x="1183.97" y="324.47" width="21" height="21" rx="2.5" fill="#3333cc"/><rect x="1207.88" y="333.18" width="21" height="21" rx="2.5" fill="#3333cc"/><rect x="1231.79" y="346.58" width="21" height="21" rx="2.5" fill="#3333cc"/><rect x="1255.69" y="364.68" width="21" height="21" rx="2.5" fill="#3333cc"/><rect x="1279.60" y="387.68" width="21" height="21" rx="2.5" fill="#3333cc"/>
<path d="M286.00 1526.50L309.91 1432.68L333.81 1350.03L357.72 1269.61L381.63 1198.12L405.54 1128.88L429.44 1061.86L453.35 996.18L477.26 932.52L501.16 867.96L525.07 804.97L548.98 751.36L572.89 688.81L596.79 626.26L620.70 568.18L644.61 519.04L668.51 472.12L692.42 429.68L716.33 389.47L740.24 355.96L764.14 329.16L788.05 304.59L811.96 284.48L835.86 268.84L859.77 256.78L883.68 249.63L907.59 245.84L931.49 243.16L955.40 242.04L979.31 243.16L1003.21 245.39L1027.12 248.29L1051.03 253.21L1074.94 256.56L1098.84 261.03L1122.75 263.48L1146.66 266.39L1170.56 269.29L1194.47 271.08L1218.38 272.64L1242.29 272.64L1266.19 272.64L1290.10 272.64L1314.01 272.64L1337.91 272.42L1361.82 271.30L1385.73 270.86L1409.64 270.86L1433.54 271.30L1457.45 271.30L1481.36 272.42L1505.26 274.88L1529.17 276.44L1553.08 278.67L1576.99 281.13L1600.89 283.36L1624.80 285.60L1648.71 288.06L1672.61 289.62L1696.52 291.18L1720.43 293.86L1744.34 296.10L1768.24 301.46" stroke="#ff00ff" stroke-width="11" fill="none" stroke-linejoin="round"/>
<path d="M284.50 1513.00L287.50 1513.00L299.00 1526.50L287.50 1540.00L284.50 1540.00L273.00 1526.50Z" fill="#ff00ff"/><path d="M308.41 1419.18L311.41 1419.18L322.91 1432.68L311.41 1446.18L308.41 1446.18L296.91 1432.68Z" fill="#ff00ff"/><path d="M332.31 1336.53L335.31 1336.53L346.81 1350.03L335.31 1363.53L332.31 1363.53L320.81 1350.03Z" fill="#ff00ff"/><path d="M356.22 1256.11L359.22 1256.11L370.72 1269.61L359.22 1283.11L356.22 1283.11L344.72 1269.61Z" fill="#ff00ff"/><path d="M380.13 1184.62L383.13 1184.62L394.63 1198.12L383.13 1211.62L380.13 1211.62L368.63 1198.12Z" fill="#ff00ff"/><path d="M404.04 1115.38L407.04 1115.38L418.54 1128.88L407.04 1142.38L404.04 1142.38L392.54 1128.88Z" fill="#ff00ff"/><path d="M427.94 1048.36L430.94 1048.36L442.44 1061.86L430.94 1075.36L427.94 1075.36L416.44 1061.86Z" fill="#ff00ff"/><path d="M451.85 982.68L454.85 982.68L466.35 996.18L454.85 1009.68L451.85 1009.68L440.35 996.18Z" fill="#ff00ff"/><path d="M475.76 919.02L478.76 919.02L490.26 932.52L478.76 946.02L475.76 946.02L464.26 932.52Z" fill="#ff00ff"/><path d="M499.66 854.46L502.66 854.46L514.16 867.96L502.66 881.46L499.66 881.46L488.16 867.96Z" fill="#ff00ff"/><path d="M523.57 791.47L526.57 791.47L538.07 804.97L526.57 818.47L523.57 818.47L512.07 804.97Z" fill="#ff00ff"/><path d="M547.48 737.86L550.48 737.86L561.98 751.36L550.48 764.86L547.48 764.86L535.98 751.36Z" fill="#ff00ff"/><path d="M571.39 675.31L574.39 675.31L585.89 688.81L574.39 702.31L571.39 702.31L559.89 688.81Z" fill="#ff00ff"/><path d="M595.29 612.76L598.29 612.76L609.79 626.26L598.29 639.76L595.29 639.76L583.79 626.26Z" fill="#ff00ff"/><path d="M619.20 554.68L622.20 554.68L633.70 568.18L622.20 581.68L619.20 581.68L607.70 568.18Z" fill="#ff00ff"/><path d="M643.11 505.54L646.11 505.54L657.61 519.04L646.11 532.54L643.11 532.54L631.61 519.04Z" fill="#ff00ff"/><path d="M667.01 458.62L670.01 458.62L681.51 472.12L670.01 485.62L667.01 485.62L655.51 472.12Z" fill="#ff00ff"/><path d="M690.92 416.18L693.92 416.18L705.42 429.68L693.92 443.18L690.92 443.18L679.42 429.68Z" fill="#ff00ff"/><path d="M714.83 375.97L717.83 375.97L729.33 389.47L717.83 402.97L714.83 402.97L703.33 389.47Z" fill="#ff00ff"/><path d="M738.74 342.46L741.74 342.46L753.24 355.96L741.74 369.46L738.74 369.46L727.24 355.96Z" fill="#ff00ff"/><path d="M762.64 315.66L765.64 315.66L777.14 329.16L765.64 342.66L762.64 342.66L751.14 329.16Z" fill="#ff00ff"/><path d="M786.55 291.09L789.55 291.09L801.05 304.59L789.55 318.09L786.55 318.09L775.05 304.59Z" fill="#ff00ff"/><path d="M810.46 270.98L813.46 270.98L824.96 284.48L813.46 297.98L810.46 297.98L798.96 284.48Z" fill="#ff00ff"/><path d="M834.36 255.34L837.36 255.34L848.86 268.84L837.36 282.34L834.36 282.34L822.86 268.84Z" fill="#ff00ff"/><path d="M858.27 243.28L861.27 243.28L872.77 256.78L861.27 270.28L858.27 270.28L846.77 256.78Z" fill="#ff00ff"/><path d="M882.18 236.13L885.18 236.13L896.68 249.63L885.18 263.13L882.18 263.13L870.68 249.63Z" fill="#ff00ff"/><path d="M906.09 232.34L909.09 232.34L920.59 245.84L909.09 259.34L906.09 259.34L894.59 245.84Z" fill="#ff00ff"/><path d="M929.99 229.66L932.99 229.66L944.49 243.16L932.99 256.66L929.99 256.66L918.49 243.16Z" fill="#ff00ff"/><path d="M953.90 228.54L956.90 228.54L968.40 242.04L956.90 255.54L953.90 255.54L942.40 242.04Z" fill="#ff00ff"/><path d="M977.81 229.66L980.81 229.66L992.31 243.16L980.81 256.66L977.81 256.66L966.31 243.16Z" fill="#ff00ff"/><path d="M1001.71 231.89L1004.71 231.89L1016.21 245.39L1004.71 258.89L1001.71 258.89L990.21 245.39Z" fill="#ff00ff"/><path d="M1025.62 234.79L1028.62 234.79L1040.12 248.29L1028.62 261.79L1025.62 261.79L1014.12 248.29Z" fill="#ff00ff"/><path d="M1049.53 239.71L1052.53 239.71L1064.03 253.21L1052.53 266.71L1049.53 266.71L1038.03 253.21Z" fill="#ff00ff"/><path d="M1073.44 243.06L1076.44 243.06L1087.94 256.56L1076.44 270.06L1073.44 270.06L1061.94 256.56Z" fill="#ff00ff"/><path d="M1097.34 247.53L1100.34 247.53L1111.84 261.03L1100.34 274.53L1097.34 274.53L1085.84 261.03Z" fill="#ff00ff"/><path d="M1121.25 249.98L1124.25 249.98L1135.75 263.48L1124.25 276.98L1121.25 276.98L1109.75 263.48Z" fill="#ff00ff"/><path d="M1145.16 252.89L1148.16 252.89L1159.66 266.39L1148.16 279.89L1145.16 279.89L1133.66 266.39Z" fill="#ff00ff"/><path d="M1169.06 255.79L1172.06 255.79L1183.56 269.29L1172.06 282.79L1169.06 282.79L1157.56 269.29Z" fill="#ff00ff"/><path d="M1192.97 257.58L1195.97 257.58L1207.47 271.08L1195.97 284.58L1192.97 284.58L1181.47 271.08Z" fill="#ff00ff"/><path d="M1216.88 259.14L1219.88 259.14L1231.38 272.64L1219.88 286.14L1216.88 286.14L1205.38 272.64Z" fill="#ff00ff"/><path d="M1240.79 259.14L1243.79 259.14L1255.29 272.64L1243.79 286.14L1240.79 286.14L1229.29 272.64Z" fill="#ff00ff"/><path d="M1264.69 259.14L1267.69 259.14L1279.19 272.64L1267.69 286.14L1264.69 286.14L1253.19 272.64Z" fill="#ff00ff"/><path d="M1288.60 259.14L1291.60 259.14L1303.10 272.64L1291.60 286.14L1288.60 286.14L1277.10 272.64Z" fill="#ff00ff"/><path d="M1312.51 259.14L1315.51 259.14L1327.01 272.64L1315.51 286.14L1312.51 286.14L1301.01 272.64Z" fill="#ff00ff"/><path d="M1336.41 258.92L1339.41 258.92L1350.91 272.42L1339.41 285.92L1336.41 285.92L1324.91 272.42Z" fill="#ff00ff"/><path d="M1360.32 257.80L1363.32 257.80L1374.82 271.30L1363.32 284.80L1360.32 284.80L1348.82 271.30Z" fill="#ff00ff"/><path d="M1384.23 257.36L1387.23 257.36L1398.73 270.86L1387.23 284.36L1384.23 284.36L1372.73 270.86Z" fill="#ff00ff"/><path d="M1408.14 257.36L1411.14 257.36L1422.64 270.86L1411.14 284.36L1408.14 284.36L1396.64 270.86Z" fill="#ff00ff"/><path d="M1432.04 257.80L1435.04 257.80L1446.54 271.30L1435.04 284.80L1432.04 284.80L1420.54 271.30Z" fill="#ff00ff"/><path d="M1455.95 257.80L1458.95 257.80L1470.45 271.30L1458.95 284.80L1455.95 284.80L1444.45 271.30Z" fill="#ff00ff"/><path d="M1479.86 258.92L1482.86 258.92L1494.36 272.42L1482.86 285.92L1479.86 285.92L1468.36 272.42Z" fill="#ff00ff"/><path d="M1503.76 261.38L1506.76 261.38L1518.26 274.88L1506.76 288.38L1503.76 288.38L1492.26 274.88Z" fill="#ff00ff"/><path d="M1527.67 262.94L1530.67 262.94L1542.17 276.44L1530.67 289.94L1527.67 289.94L1516.17 276.44Z" fill="#ff00ff"/><path d="M1551.58 265.17L1554.58 265.17L1566.08 278.67L1554.58 292.17L1551.58 292.17L1540.08 278.67Z" fill="#ff00ff"/><path d="M1575.49 267.63L1578.49 267.63L1589.99 281.13L1578.49 294.63L1575.49 294.63L1563.99 281.13Z" fill="#ff00ff"/><path d="M1599.39 269.86L1602.39 269.86L1613.89 283.36L1602.39 296.86L1599.39 296.86L1587.89 283.36Z" fill="#ff00ff"/><path d="M1623.30 272.10L1626.30 272.10L1637.80 285.60L1626.30 299.10L1623.30 299.10L1611.80 285.60Z" fill="#ff00ff"/><path d="M1647.21 274.56L1650.21 274.56L1661.71 288.06L1650.21 301.56L1647.21 301.56L1635.71 288.06Z" fill="#ff00ff"/><path d="M1671.11 276.12L1674.11 276.12L1685.61 289.62L1674.11 303.12L1671.11 303.12L1659.61 289.62Z" fill="#ff00ff"/><path d="M1695.02 277.68L1698.02 277.68L1709.52 291.18L1698.02 304.68L1695.02 304.68L1683.52 291.18Z" fill="#ff00ff"/><path d="M1718.93 280.36L1721.93 280.36L1733.43 293.86L1721.93 307.36L1718.93 307.36L1707.43 293.86Z" fill="#ff00ff"/><path d="M1742.84 282.60L1745.84 282.60L1757.34 296.10L1745.84 309.60L1742.84 309.60L1731.34 296.10Z" fill="#ff00ff"/><path d="M1766.74 287.96L1769.74 287.96L1781.24 301.46L1769.74 314.96L1766.74 314.96L1755.24 301.46Z" fill="#ff00ff"/>
<path d="M286.00 1526.50L309.91 1425.98L333.81 1338.41L357.72 1251.74L381.63 1170.20L405.54 1093.13L429.44 1018.52L453.35 940.34L477.26 862.60L501.16 793.80L525.07 721.42L548.98 652.17L572.89 584.71L596.79 521.27L620.70 462.07L644.61 409.80L668.51 361.33L692.42 321.56L716.33 286.49L740.24 256.78L764.14 233.77L788.05 217.02L811.96 204.29L835.86 196.47L859.77 191.55L883.68 190.66L907.59 191.33L931.49 194.23L955.40 198.48L979.31 202.50L1003.21 207.64L1027.12 210.54L1051.03 213.45L1074.94 215.68L1098.84 216.57L1122.75 216.80L1146.66 215.68L1170.56 214.79L1194.47 214.12L1218.38 213.89L1242.29 213.89L1266.19 214.12L1290.10 215.23L1314.01 218.14L1337.91 222.60L1361.82 226.62L1385.73 229.53L1409.64 232.43L1433.54 232.43L1457.45 229.53" stroke="#00b050" stroke-width="9" fill="none" stroke-linejoin="round"/>
<path d="M286.00 1513.75L299.50 1539.25L272.50 1539.25Z" fill="#00b050" stroke="#00b050" stroke-width="3" stroke-linejoin="round"/><path d="M309.91 1413.23L323.41 1438.73L296.41 1438.73Z" fill="#00b050" stroke="#00b050" stroke-width="3" stroke-linejoin="round"/><path d="M333.81 1325.66L347.31 1351.16L320.31 1351.16Z" fill="#00b050" stroke="#00b050" stroke-width="3" stroke-linejoin="round"/><path d="M357.72 1238.99L371.22 1264.49L344.22 1264.49Z" fill="#00b050" stroke="#00b050" stroke-width="3" stroke-linejoin="round"/><path d="M381.63 1157.45L395.13 1182.95L368.13 1182.95Z" fill="#00b050" stroke="#00b050" stroke-width="3" stroke-linejoin="round"/><path d="M405.54 1080.38L419.04 1105.88L392.04 1105.88Z" fill="#00b050" stroke="#00b050" stroke-width="3" stroke-linejoin="round"/><path d="M429.44 1005.77L442.94 1031.27L415.94 1031.27Z" fill="#00b050" stroke="#00b050" stroke-width="3" stroke-linejoin="round"/><path d="M453.35 927.59L466.85 953.09L439.85 953.09Z" fill="#00b050" stroke="#00b050" stroke-width="3" stroke-linejoin="round"/><path d="M477.26 849.85L490.76 875.35L463.76 875.35Z" fill="#00b050" stroke="#00b050" stroke-width="3" stroke-linejoin="round"/><path d="M501.16 781.05L514.66 806.55L487.66 806.55Z" fill="#00b050" stroke="#00b050" stroke-width="3" stroke-linejoin="round"/><path d="M525.07 708.67L538.57 734.17L511.57 734.17Z" fill="#00b050" stroke="#00b050" stroke-width="3" stroke-linejoin="round"/><path d="M548.98 639.42L562.48 664.92L535.48 664.92Z" fill="#00b050" stroke="#00b050" stroke-width="3" stroke-linejoin="round"/><path d="M572.89 571.96L586.39 597.46L559.39 597.46Z" fill="#00b050" stroke="#00b050" stroke-width="3" stroke-linejoin="round"/><path d="M596.79 508.52L610.29 534.02L583.29 534.02Z" fill="#00b050" stroke="#00b050" stroke-width="3" stroke-linejoin="round"/><path d="M620.70 449.32L634.20 474.82L607.20 474.82Z" fill="#00b050" stroke="#00b050" stroke-width="3" stroke-linejoin="round"/><path d="M644.61 397.05L658.11 422.55L631.11 422.55Z" fill="#00b050" stroke="#00b050" stroke-width="3" stroke-linejoin="round"/><path d="M668.51 348.58L682.01 374.08L655.01 374.08Z" fill="#00b050" stroke="#00b050" stroke-width="3" stroke-linejoin="round"/><path d="M692.42 308.81L705.92 334.31L678.92 334.31Z" fill="#00b050" stroke="#00b050" stroke-width="3" stroke-linejoin="round"/><path d="M716.33 273.74L729.83 299.24L702.83 299.24Z" fill="#00b050" stroke="#00b050" stroke-width="3" stroke-linejoin="round"/><path d="M740.24 244.03L753.74 269.53L726.74 269.53Z" fill="#00b050" stroke="#00b050" stroke-width="3" stroke-linejoin="round"/><path d="M764.14 221.02L777.64 246.52L750.64 246.52Z" fill="#00b050" stroke="#00b050" stroke-width="3" stroke-linejoin="round"/><path d="M788.05 204.27L801.55 229.77L774.55 229.77Z" fill="#00b050" stroke="#00b050" stroke-width="3" stroke-linejoin="round"/><path d="M811.96 191.54L825.46 217.04L798.46 217.04Z" fill="#00b050" stroke="#00b050" stroke-width="3" stroke-linejoin="round"/><path d="M835.86 183.72L849.36 209.22L822.36 209.22Z" fill="#00b050" stroke="#00b050" stroke-width="3" stroke-linejoin="round"/><path d="M859.77 178.80L873.27 204.30L846.27 204.30Z" fill="#00b050" stroke="#00b050" stroke-width="3" stroke-linejoin="round"/><path d="M883.68 177.91L897.18 203.41L870.18 203.41Z" fill="#00b050" stroke="#00b050" stroke-width="3" stroke-linejoin="round"/><path d="M907.59 178.58L921.09 204.08L894.09 204.08Z" fill="#00b050" stroke="#00b050" stroke-width="3" stroke-linejoin="round"/><path d="M931.49 181.48L944.99 206.98L917.99 206.98Z" fill="#00b050" stroke="#00b050" stroke-width="3" stroke-linejoin="round"/><path d="M955.40 185.73L968.90 211.23L941.90 211.23Z" fill="#00b050" stroke="#00b050" stroke-width="3" stroke-linejoin="round"/><path d="M979.31 189.75L992.81 215.25L965.81 215.25Z" fill="#00b050" stroke="#00b050" stroke-width="3" stroke-linejoin="round"/><path d="M1003.21 194.89L1016.71 220.39L989.71 220.39Z" fill="#00b050" stroke="#00b050" stroke-width="3" stroke-linejoin="round"/><path d="M1027.12 197.79L1040.62 223.29L1013.62 223.29Z" fill="#00b050" stroke="#00b050" stroke-width="3" stroke-linejoin="round"/><path d="M1051.03 200.70L1064.53 226.20L1037.53 226.20Z" fill="#00b050" stroke="#00b050" stroke-width="3" stroke-linejoin="round"/><path d="M1074.94 202.93L1088.44 228.43L1061.44 228.43Z" fill="#00b050" stroke="#00b050" stroke-width="3" stroke-linejoin="round"/><path d="M1098.84 203.82L1112.34 229.32L1085.34 229.32Z" fill="#00b050" stroke="#00b050" stroke-width="3" stroke-linejoin="round"/><path d="M1122.75 204.05L1136.25 229.55L1109.25 229.55Z" fill="#00b050" stroke="#00b050" stroke-width="3" stroke-linejoin="round"/><path d="M1146.66 202.93L1160.16 228.43L1133.16 228.43Z" fill="#00b050" stroke="#00b050" stroke-width="3" stroke-linejoin="round"/><path d="M1170.56 202.04L1184.06 227.54L1157.06 227.54Z" fill="#00b050" stroke="#00b050" stroke-width="3" stroke-linejoin="round"/><path d="M1194.47 201.37L1207.97 226.87L1180.97 226.87Z" fill="#00b050" stroke="#00b050" stroke-width="3" stroke-linejoin="round"/><path d="M1218.38 201.14L1231.88 226.64L1204.88 226.64Z" fill="#00b050" stroke="#00b050" stroke-width="3" stroke-linejoin="round"/><path d="M1242.29 201.14L1255.79 226.64L1228.79 226.64Z" fill="#00b050" stroke="#00b050" stroke-width="3" stroke-linejoin="round"/><path d="M1266.19 201.37L1279.69 226.87L1252.69 226.87Z" fill="#00b050" stroke="#00b050" stroke-width="3" stroke-linejoin="round"/><path d="M1290.10 202.48L1303.60 227.98L1276.60 227.98Z" fill="#00b050" stroke="#00b050" stroke-width="3" stroke-linejoin="round"/><path d="M1314.01 205.39L1327.51 230.89L1300.51 230.89Z" fill="#00b050" stroke="#00b050" stroke-width="3" stroke-linejoin="round"/><path d="M1337.91 209.85L1351.41 235.35L1324.41 235.35Z" fill="#00b050" stroke="#00b050" stroke-width="3" stroke-linejoin="round"/><path d="M1361.82 213.87L1375.32 239.37L1348.32 239.37Z" fill="#00b050" stroke="#00b050" stroke-width="3" stroke-linejoin="round"/><path d="M1385.73 216.78L1399.23 242.28L1372.23 242.28Z" fill="#00b050" stroke="#00b050" stroke-width="3" stroke-linejoin="round"/><path d="M1409.64 219.68L1423.14 245.18L1396.14 245.18Z" fill="#00b050" stroke="#00b050" stroke-width="3" stroke-linejoin="round"/><path d="M1433.54 219.68L1447.04 245.18L1420.04 245.18Z" fill="#00b050" stroke="#00b050" stroke-width="3" stroke-linejoin="round"/><path d="M1457.45 216.78L1470.95 242.28L1443.95 242.28Z" fill="#00b050" stroke="#00b050" stroke-width="3" stroke-linejoin="round"/>
<path d="M286.00 1526.50C295.96 1488.82 325.85 1368.83 345.77 1300.43C365.69 1232.04 385.61 1175.94 405.54 1116.14C425.46 1056.35 445.38 998.94 465.30 941.68C485.23 884.42 505.15 827.75 525.07 772.58C544.99 717.40 564.92 659.88 584.84 610.62C604.76 561.37 624.68 517.84 644.61 477.04C664.53 436.23 684.45 397.14 704.38 365.79C724.30 334.45 744.22 309.31 764.14 288.95C784.07 268.58 803.99 254.03 823.91 243.60C843.83 233.18 863.76 228.97 883.68 226.40C903.60 223.83 923.52 225.99 943.45 228.19C963.37 230.39 983.29 234.85 1003.21 239.58C1023.14 244.31 1043.06 251.57 1062.98 256.56C1082.90 261.55 1102.83 266.35 1122.75 269.51C1142.67 272.68 1162.60 274.65 1182.52 275.55C1202.44 276.44 1222.36 276.03 1242.29 274.88C1262.21 273.72 1282.13 270.93 1302.05 268.62C1321.98 266.31 1341.90 263.19 1361.82 261.03C1381.74 258.87 1401.67 256.26 1421.59 255.66C1441.51 255.07 1461.43 255.70 1481.36 257.45C1501.28 259.20 1521.20 262.40 1541.12 266.16C1561.05 269.92 1580.97 275.47 1600.89 280.01C1620.82 284.56 1640.74 290.33 1660.66 293.42C1680.58 296.51 1700.51 298.85 1720.43 298.55C1740.35 298.26 1770.24 292.78 1780.20 291.63" stroke="#ff0000" stroke-width="9.5" fill="none" stroke-linejoin="round"/>
<path d="M267.80 1508.30L304.20 1544.70M304.20 1508.30L267.80 1544.70" stroke="#ff0000" stroke-width="8" fill="none"/><path d="M327.57 1282.23L363.97 1318.63M363.97 1282.23L327.57 1318.63" stroke="#ff0000" stroke-width="8" fill="none"/><path d="M387.34 1097.94L423.74 1134.34M423.74 1097.94L387.34 1134.34" stroke="#ff0000" stroke-width="8" fill="none"/><path d="M447.10 923.48L483.50 959.88M483.50 923.48L447.10 959.88" stroke="#ff0000" stroke-width="8" fill="none"/><path d="M506.87 754.38L543.27 790.78M543.27 754.38L506.87 790.78" stroke="#ff0000" stroke-width="8" fill="none"/><path d="M566.64 592.42L603.04 628.82M603.04 592.42L566.64 628.82" stroke="#ff0000" stroke-width="8" fill="none"/><path d="M626.41 458.84L662.81 495.24M662.81 458.84L626.41 495.24" stroke="#ff0000" stroke-width="8" fill="none"/><path d="M686.17 347.59L722.58 383.99M722.58 347.59L686.17 383.99" stroke="#ff0000" stroke-width="8" fill="none"/><path d="M745.94 270.75L782.34 307.15M782.34 270.75L745.94 307.15" stroke="#ff0000" stroke-width="8" fill="none"/><path d="M805.71 225.40L842.11 261.80M842.11 225.40L805.71 261.80" stroke="#ff0000" stroke-width="8" fill="none"/><path d="M865.48 208.20L901.88 244.60M901.88 208.20L865.48 244.60" stroke="#ff0000" stroke-width="8" fill="none"/><path d="M925.25 209.99L961.65 246.39M961.65 209.99L925.25 246.39" stroke="#ff0000" stroke-width="8" fill="none"/><path d="M985.01 221.38L1021.41 257.78M1021.41 221.38L985.01 257.78" stroke="#ff0000" stroke-width="8" fill="none"/><path d="M1044.78 238.36L1081.18 274.76M1081.18 238.36L1044.78 274.76" stroke="#ff0000" stroke-width="8" fill="none"/><path d="M1104.55 251.31L1140.95 287.71M1140.95 251.31L1104.55 287.71" stroke="#ff0000" stroke-width="8" fill="none"/><path d="M1164.32 257.35L1200.72 293.75M1200.72 257.35L1164.32 293.75" stroke="#ff0000" stroke-width="8" fill="none"/><path d="M1224.09 256.68L1260.49 293.08M1260.49 256.68L1224.09 293.08" stroke="#ff0000" stroke-width="8" fill="none"/><path d="M1283.85 250.42L1320.25 286.82M1320.25 250.42L1283.85 286.82" stroke="#ff0000" stroke-width="8" fill="none"/><path d="M1343.62 242.83L1380.02 279.23M1380.02 242.83L1343.62 279.23" stroke="#ff0000" stroke-width="8" fill="none"/><path d="M1403.39 237.46L1439.79 273.86M1439.79 237.46L1403.39 273.86" stroke="#ff0000" stroke-width="8" fill="none"/><path d="M1463.16 239.25L1499.56 275.65M1499.56 239.25L1463.16 275.65" stroke="#ff0000" stroke-width="8" fill="none"/><path d="M1522.92 247.96L1559.32 284.36M1559.32 247.96L1522.92 284.36" stroke="#ff0000" stroke-width="8" fill="none"/><path d="M1582.69 261.81L1619.09 298.21M1619.09 261.81L1582.69 298.21" stroke="#ff0000" stroke-width="8" fill="none"/><path d="M1642.46 275.22L1678.86 311.62M1678.86 275.22L1642.46 311.62" stroke="#ff0000" stroke-width="8" fill="none"/><path d="M1702.23 280.35L1738.63 316.75M1738.63 280.35L1702.23 316.75" stroke="#ff0000" stroke-width="8" fill="none"/><path d="M1762.00 273.43L1798.40 309.83M1798.40 273.43L1762.00 309.83" stroke="#ff0000" stroke-width="8" fill="none"/>
<g font-family="'Liberation Serif', 'Times New Roman', serif" font-weight="bold" font-size="64" fill="#000"><text transform="translate(231 1547.7) scale(1 1.07)" text-anchor="end">0</text><text transform="translate(231 1436.0) scale(1 1.07)" text-anchor="end">5</text><text transform="translate(231 1324.3) scale(1 1.07)" text-anchor="end">10</text><text transform="translate(231 1212.6) scale(1 1.07)" text-anchor="end">15</text><text transform="translate(231 1100.9) scale(1 1.07)" text-anchor="end">20</text><text transform="translate(231 989.2) scale(1 1.07)" text-anchor="end">25</text><text transform="translate(231 877.5) scale(1 1.07)" text-anchor="end">30</text><text transform="translate(231 765.9) scale(1 1.07)" text-anchor="end">35</text><text transform="translate(231 654.2) scale(1 1.07)" text-anchor="end">40</text><text transform="translate(231 542.5) scale(1 1.07)" text-anchor="end">45</text><text transform="translate(231 430.8) scale(1 1.07)" text-anchor="end">50</text><text transform="translate(231 319.1) scale(1 1.07)" text-anchor="end">55</text><text transform="translate(231 207.4) scale(1 1.07)" text-anchor="end">60</text><text transform="translate(231 95.7) scale(1 1.07)" text-anchor="end">65</text><text transform="translate(286.0 1623.4) scale(1 1.07)" text-anchor="middle">0</text><text transform="translate(525.1 1623.4) scale(1 1.07)" text-anchor="middle">0.02</text><text transform="translate(764.1 1623.4) scale(1 1.07)" text-anchor="middle">0.04</text><text transform="translate(1003.2 1623.4) scale(1 1.07)" text-anchor="middle">0.06</text><text transform="translate(1242.3 1623.4) scale(1 1.07)" text-anchor="middle">0.08</text><text transform="translate(1481.4 1623.4) scale(1 1.07)" text-anchor="middle">0.1</text><text transform="translate(1720.4 1623.4) scale(1 1.07)" text-anchor="middle">0.12</text><text transform="translate(1959.5 1623.4) scale(1 1.07)" text-anchor="middle">0.14</text></g>
<g font-family="'Liberation Serif', 'Times New Roman', serif" font-weight="bold" font-size="64"><text x="556.5" y="1720">Engineering Strain, ε = (ΔL/L</text><text x="1366.8" y="1736.4" font-size="45">o</text><text x="1386" y="1720">)</text><text x="1423" y="1720" textLength="267" lengthAdjust="spacingAndGlyphs">(mm/mm)</text></g>
<text transform="translate(109.5 813) rotate(-90) scale(0.996 1)" text-anchor="middle" font-family="'Liberation Serif', 'Times New Roman', serif" font-weight="bold" font-size="64">Engineering Stress, <tspan font-family="'Liberation Sans', Arial, sans-serif" font-size="58">σ</tspan> = F/Ao (MPa)</text>
<rect x="1084" y="432" width="823" height="269" fill="#fff" stroke="#000" stroke-width="7.5" stroke-linejoin="round"/>
<path d="M1144.5 465.5H1281.5" stroke="#3333cc" stroke-width="8.5" stroke-linecap="round"/>
<rect x="1203.50" y="455.50" width="20" height="20" rx="2.5" fill="#3333cc"/>
<text x="1296" y="480.8" font-family="'Liberation Serif', 'Times New Roman', serif" font-weight="bold" font-size="49.4">Hexagonal Specimen No.1</text>
<path d="M1144.5 533.0H1281.5" stroke="#ff00ff" stroke-width="11.5" stroke-linecap="round"/>
<path d="M1210.50 520.00L1215.50 520.00L1228.00 533.00L1215.50 546.00L1210.50 546.00L1198.00 533.00Z" fill="#ff00ff"/>
<text x="1296" y="548.3" font-family="'Liberation Serif', 'Times New Roman', serif" font-weight="bold" font-size="49.4">Hexagonal Specimen No.2</text>
<path d="M1144.5 599.4H1281.5" stroke="#00b050" stroke-width="8.7" stroke-linecap="round"/>
<path d="M1213.50 587.90L1225.75 610.90L1201.25 610.90Z" fill="#00b050" stroke="#00b050" stroke-width="3" stroke-linejoin="round"/>
<text x="1296" y="614.7" font-family="'Liberation Serif', 'Times New Roman', serif" font-weight="bold" font-size="49.4">Hexagonal Specimen No.3</text>
<path d="M1144.5 667.4H1281.5" stroke="#ff0000" stroke-width="8.7" stroke-linecap="round"/>
<path d="M1199.00 652.90L1228.00 681.90M1228.00 652.90L1199.00 681.90" stroke="#ff0000" stroke-width="7.5" fill="none"/>
<text x="1296" y="682.7" font-family="'Liberation Serif', 'Times New Roman', serif" font-weight="bold" font-size="49.4">Average</text>
</svg></body></html>
